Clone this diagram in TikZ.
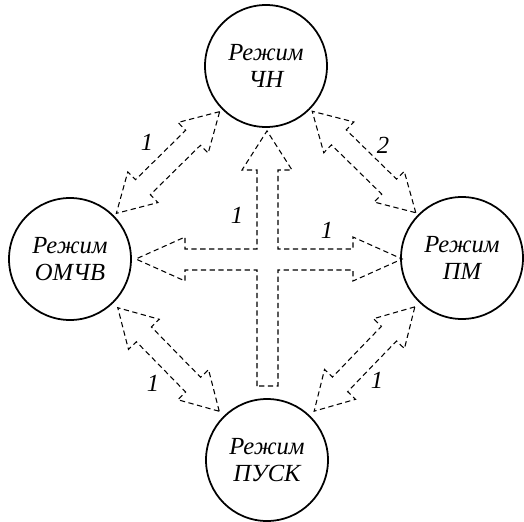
\documentclass[tikz,border=0pt]{standalone}
\usepackage{fontspec}
\setmainfont{Liberation Serif}
\usetikzlibrary{shapes.arrows,calc}

\tikzset{
	mode/.style={draw, circle, line width=1pt, minimum size=2.44cm, inner sep=0pt, align=center, font=\itshape\fontsize{14}{15}\selectfont},
	broad/.style={draw, double arrow, dash pattern=on 3pt off 2pt, line width=0.6pt, inner xsep=0pt, inner ysep=0.2cm, double arrow head extend=0.22cm, double arrow tip angle=60, minimum height=2.9cm},
	num/.style={font=\itshape\fontsize{14}{15}\selectfont, inner sep=0pt}
}

\begin{document}
\begin{tikzpicture}
				\useasboundingbox (0,0) rectangle (10.48,-10.42);
				\node[mode] (chn) at (5.32,-1.32) {Режим\\ЧН};
				\node[mode] (omchv) at (1.40,-5.18) {Режим\\ОМЧВ};
				\node[mode] (pm) at (9.24,-5.16) {Режим\\ПМ};
				\node[mode] (pusk) at (5.34,-9.20) {Режим\\ПУСК};
				\path (omchv) -- (chn) node[broad, sloped, midway] (omchvchn) {};
				\path (chn) -- (pm) node[broad, sloped, midway] (chnpm) {};
				\path (omchv) -- (pusk) node[broad, sloped, midway] (omchvpusk) {};
				\path (pusk) -- (pm) node[broad, sloped, midway] (puskpm) {};
				% arrow from start mode to the three others
				\draw[dash pattern=on 3pt off 2pt, line width=0.6pt] (5.14,-7.72) -- (5.14,-5.40) -- (3.70,-5.40) -- (3.70,-5.62)
					-- ($(omchv.east)+(0.08,0)$) -- (3.70,-4.74) -- (3.70,-4.98) -- (5.14,-4.98) -- (5.14,-3.40) -- (4.84,-3.40)
					-- ($(chn.south)+(0.02,-0.06)$) -- (5.84,-3.40) -- (5.56,-3.40) -- (5.56,-4.98) -- (7.06,-4.98) -- (7.06,-4.74)
					-- ($(pm.west)+(0.04,-0.02)$) -- (7.06,-5.62) -- (7.06,-5.40) -- (5.56,-5.40) -- (5.56,-7.72) -- cycle;
				\node[num] (n1) at (2.94,-2.84) {1};
				\node[num] (n2) at (7.66,-2.90) {2};
				\node[num] (n3) at (3.06,-7.66) {1};
				\node[num] (n4) at (7.54,-7.60) {1};
				\node[num] (n5) at (4.74,-4.30) {1};
				\node[num] (n6) at (6.54,-4.60) {1};
\end{tikzpicture}
\end{document}
